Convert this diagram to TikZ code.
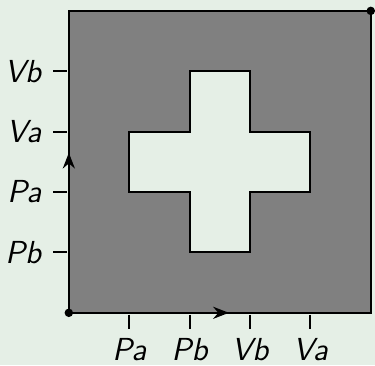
\documentclass[tikz,border=0pt]{standalone}
\usetikzlibrary{arrows.meta, decorations.markings}
\definecolor{bgcol}{RGB}{229,239,230}

\begin{document}
\begin{tikzpicture}[
    edge/.style={line width=1pt},
    ticklab/.style={font=\fontsize{15}{18}\selectfont\sffamily\itshape, inner sep=2pt},
    midarrow/.style={postaction={decorate}, decoration={markings, mark=at position 0.53 with {\arrow{Stealth[length=2.6mm, width=2mm]}}}}
]

% Background
\fill[bgcol] (-1.14,-0.87) rectangle (5.07,5.18);
\useasboundingbox (-1.14,-0.87) rectangle (5.07,5.18);

% Square and cross
\coordinate (origin) at (0,0);
\coordinate (corner) at (5,5);
\coordinate (xend) at (5,0);
\coordinate (yend) at (0,5);
\filldraw[fill=gray, edge] (origin) rectangle (corner);
\filldraw[fill=bgcol, edge] (2,1) -- (3,1) -- (3,2) -- (4,2) -- (4,3) -- (3,3) -- (3,4) -- (2,4) -- (2,3) -- (1,3) -- (1,2) -- (2,2) -- cycle;

% Axes
\draw[edge, midarrow] (origin) -- (xend);
\draw[edge, midarrow] (origin) -- (yend);
\fill (origin) circle (2pt);
\fill (corner) circle (2pt);

% Ticks
\foreach \x/\lab [count=\i] in {1/Pa, 2/Pb, 3/Vb, 4/Va} {
    \draw[edge] (\x,-0.03) -- (\x,-0.26) coordinate (xt\i);
    \node (xl\i) [ticklab, below=0.08cm] at (xt\i) {\lab};
}
\foreach \y/\lab [count=\i] in {1/Pb, 2/Pa, 3/Va, 4/Vb} {
    \draw[edge] (-0.03,\y) -- (-0.26,\y) coordinate (yt\i);
    \node (yl\i) [ticklab, left=0.12cm] at (yt\i) {\lab};
}

\end{tikzpicture}
\end{document}
